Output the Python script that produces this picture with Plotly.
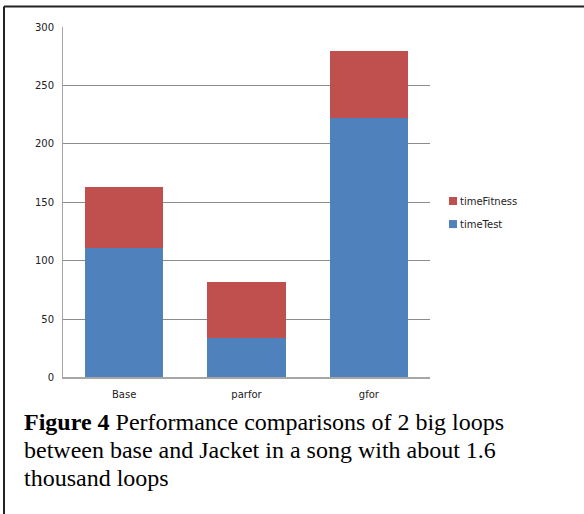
import plotly.graph_objects as go

# Loop timing per implementation (seconds)
categories = ["Base", "parfor", "gfor"]
series_names = ["timeTest", "timeFitness"]
time_test = [111, 33.5, 222]
time_fitness = [52.5, 48, 57.5]
y_ticks = [0, 50, 100, 150, 200, 250, 300]

caption_lines = [
    "<b>Figure 4</b> Performance comparisons of 2 big loops",
    "between base and Jacket in a song with about 1.6",
    "thousand loops",
]

W, H = 584, 514
BLUE = "#4F81BD"
RED = "#C0504D"
GRID = "#8C8C8C"
SANS = "DejaVu Sans, Verdana, sans-serif"
SERIF = "Liberation Serif, Times New Roman, serif"

# vertical placement helper: page offset/scale of the rendered figure
Y_OFF, Y_SCALE = 5.5, 0.978


def px_x(v):
    return v / W


def px_y(v):
    return 1 - ((v - Y_OFF) / Y_SCALE) / H


fig = go.Figure()
series = [(series_names[0], time_test, BLUE), (series_names[1], time_fitness, RED)]
for name, vals, color in series:
    fig.add_trace(go.Bar(
        x=categories, y=vals, name=name,
        marker=dict(color=color, line=dict(width=0)), width=0.64,
        showlegend=False,
    ))

axis_font = dict(family=SANS, size=10, color="#222222")

fig.update_layout(
    width=W, height=H,
    margin=dict(l=0, r=0, t=0, b=0),
    paper_bgcolor="white", plot_bgcolor="white",
    barmode="stack",
    xaxis=dict(
        domain=[px_x(63), px_x(430)],
        type="category",
        showline=True, linecolor="#A6A6A6", linewidth=2,
        ticks="", tickfont=axis_font,
        ticklabelstandoff=7,
        showgrid=False,
    ),
    yaxis=dict(
        domain=[px_y(377), px_y(27)],
        range=[0, 300.6],
        tickvals=y_ticks,
        showline=True, linecolor="#A6A6A6", linewidth=1,
        showgrid=True, gridcolor=GRID, gridwidth=1,
        zeroline=False,
        ticks="", tickfont=axis_font,
        ticklabelstandoff=6,
    ),
    showlegend=False,
)

# Legend: series listed top-down in stacking order (top segment first)
legend_rows = [(series_names[1], RED, 201), (series_names[0], BLUE, 224)]
for name, color, yc in legend_rows:
    fig.add_shape(type="rect", xref="paper", yref="paper",
                  x0=px_x(449), x1=px_x(457), y0=px_y(yc + 4), y1=px_y(yc - 4),
                  fillcolor=color, line=dict(width=0))
    fig.add_annotation(xref="paper", yref="paper",
                       x=px_x(458), y=px_y(yc), xanchor="left", yanchor="middle",
                       text=name, showarrow=False,
                       font=dict(family=SANS, size=10, color="#222222"))

# Figure caption, one annotation per line for tighter line spacing
for i, line in enumerate(caption_lines):
    fig.add_annotation(
        xref="paper", yref="paper",
        x=px_x(22), y=px_y(421 + 28 * i), xanchor="left", yanchor="middle",
        text=line, showarrow=False, align="left",
        font=dict(family=SERIF, size=24, color="black"),
    )

# Frame around figure and caption
fig.add_shape(type="line", xref="paper", yref="paper",
              x0=px_x(4), x1=1.01, y0=0.997, y1=0.997,
              line=dict(color="#222222", width=2))
fig.add_shape(type="line", xref="paper", yref="paper",
              x0=px_x(4), x1=px_x(4), y0=0.997, y1=-0.01,
              line=dict(color="#222222", width=2))

fig.write_html("out.html")
